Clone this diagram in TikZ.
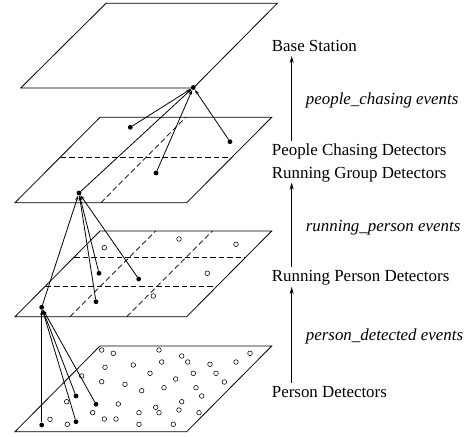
\documentclass[tikz,border=0pt]{standalone}
\usepackage{fontspec}
\setmainfont{Liberation Serif}
\usetikzlibrary{arrows.meta}
\begin{document}
\begin{tikzpicture}[x=1pt,y=-1pt,
  plane/.style={draw=black,line width=0.8pt,line join=miter},
  gridline/.style={line width=0.7pt,dash pattern=on 5.5pt off 3pt},
  fdot/.style={circle,fill=black,inner sep=0pt,minimum size=4.8pt},
  odot/.style={circle,draw=black,fill=white,line width=0.55pt,inner sep=0pt,minimum size=4.6pt},
  conn/.style={line width=0.8pt,-{Stealth[length=5pt,width=3pt]}},
  lvl/.style={anchor=base west,inner sep=0pt,font=\fontsize{16.9}{18}\selectfont},
  ev/.style={anchor=base west,inner sep=0pt,font=\fontsize{16.9}{18}\selectfont\itshape},
  uparrow/.style={line width=1pt,-{Stealth[length=7pt,width=4pt]}}
]
\useasboundingbox (0,0) rectangle (468,436);

% planes
\draw[plane] (106,3.3) -- (277.3,3.3) -- (193.3,88) -- (20.7,88) -- cycle;
\draw[plane] (100,117.3) -- (271.7,117.3) -- (186.7,202.7) -- (15,202.7) -- cycle;
\draw[plane] (100,231) -- (271.7,231) -- (186.7,316.7) -- (15,316.7) -- cycle;
\draw[plane] (100,346) -- (271.7,346) -- (186.7,431.7) -- (15,431.7) -- cycle;

% grid of plane 2
\draw[gridline] (60.7,157) -- (232.4,157);
\draw[gridline] (100.85,202.7) -- (185.85,117.3);
% grid of plane 3
\draw[gridline] (74.4,257.3) -- (246.1,257.3);
\draw[gridline] (45.7,286) -- (217.4,286);
\draw[gridline] (70,316.7) -- (155.7,231);
\draw[gridline] (126.7,316.7) -- (212.4,231);

% open circles plane 3
\foreach \p [count=\i] in {(104.3,247.7),(179,239),(236,244.3),(207.3,273.3),(153.3,296)}
  \node[odot] (o3-\i) at \p {};

% open circles plane 4
\foreach \p [count=\i] in {(101.7,350),(113.3,353.3),(105,367.3),(133.3,365),(81.7,376),
  (101.7,381.7),(125,384.3),(141.7,390.7),(66.7,401.7),(118.3,404),(92.7,412.7),
  (139,412.7),(50,419.3),(104.3,419),(116,419),(67.3,424.3),(139,424.3),
  (159,350),(181.7,356),(187.7,362),(161.7,362),(250,353.3),(210,364.3),(236,362),
  (150,373.3),(193.3,373.3),(216,373.3),(175.7,379),(224.3,382),(164,387.7),
  (196,387.7),(201.7,396),(181.7,401.7),(155.7,407.3),(159,412.7),(179,410),
  (199,412.7),(173.3,424.3)}
  \node[odot] (o4-\i) at \p {};

% filled dots
\node[fdot] (h1) at (193.3,87.5) {};
\node[fdot] (p2a) at (130.3,127.3) {};
\node[fdot] (p2b) at (156,173) {};
\node[fdot] (p2c) at (230,141.7) {};
\node[fdot] (h2) at (79,193) {};
\node[fdot] (p3a) at (99,273.3) {};
\node[fdot] (p3b) at (138.7,279) {};
\node[fdot] (p3c) at (96,301.7) {};
\node[fdot] (h3) at (41.7,307.3) {};
\node[fdot] (p4a) at (41.7,425) {};
\node[fdot] (p4b) at (76,396) {};
\node[fdot] (p4c) at (96,404.3) {};
\node[fdot] (p4d) at (76,421.7) {};

% connectors
\foreach \s in {p2a,p2b,p2c,h2} \draw[conn] (\s) -- (h1);
\foreach \s in {p3a,p3b,p3c,h3} \draw[conn] (\s) -- (h2);
\foreach \s in {p4a,p4b,p4c,p4d} \draw[conn] (\s) -- (h3);

% labels
\node[lvl] (bs) at (271.7,51.7) {Base Station};
\node[ev] (e1) at (305.7,104) {people\_chasing events};
\node[lvl] (pcd) at (271.7,155) {People Chasing Detectors};
\node[lvl] (rgd) at (271.7,178.3) {Running Group Detectors};
\node[ev] (e2) at (305.7,231.7) {running\_person events};
\node[lvl] (rpd) at (271.7,281.7) {Running Person Detectors};
\node[ev] (e3) at (305.7,340.7) {person\_detected events};
\node[lvl] (pd) at (271.7,397) {Person Detectors};

\coordinate (ax) at (291.7,0);
\draw[uparrow,shorten <=2pt,shorten >=4pt] (pcd.north -| ax) -- (bs.south -| ax);
\draw[uparrow,shorten <=3.8pt,shorten >=0.5pt] (rpd.north -| ax) -- (rgd.south -| ax);
\draw[uparrow,shorten <=2.5pt,shorten >=1.4pt] (pd.north -| ax) -- (rpd.south -| ax);
\end{tikzpicture}
\end{document}
